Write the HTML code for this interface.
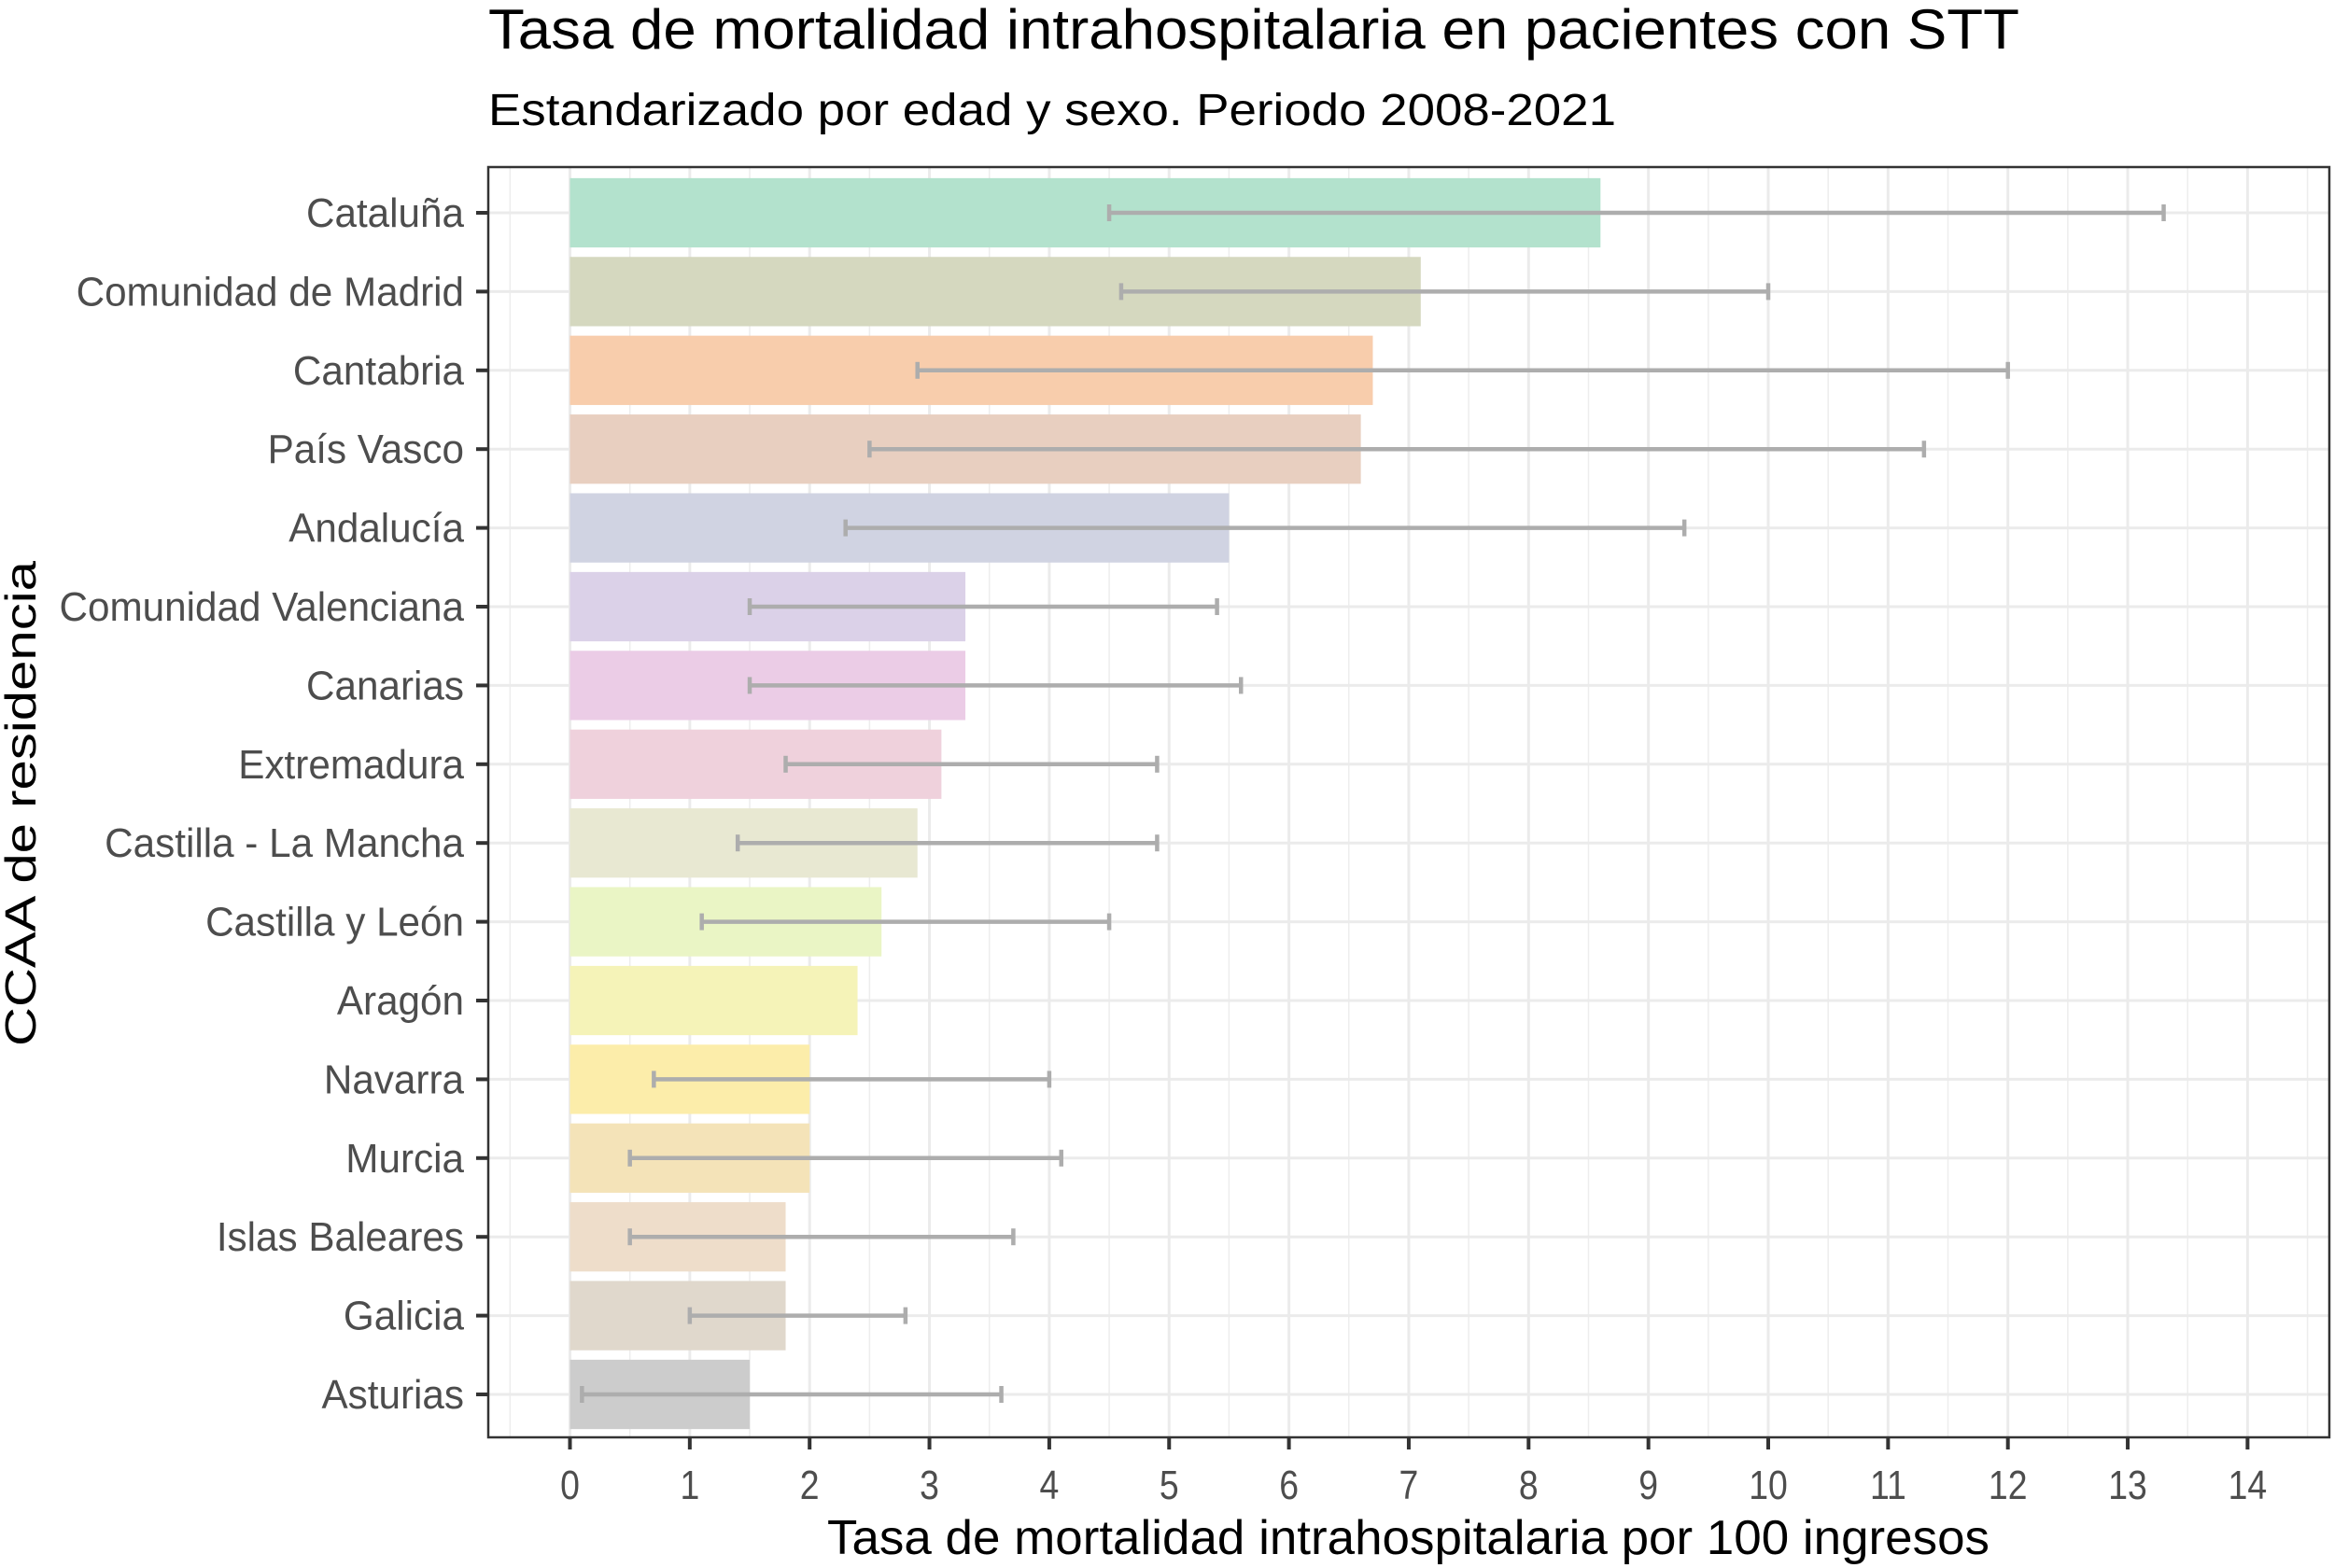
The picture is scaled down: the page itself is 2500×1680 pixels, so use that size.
<!DOCTYPE html>
<html><head><meta charset="utf-8"><style>html,body{margin:0;padding:0;background:#fff}svg{display:block}</style></head>
<body>
<svg id="chart" width="2500" height="1680" xmlns="http://www.w3.org/2000/svg" font-family="'Liberation Sans', sans-serif"></svg>
<script>
const categories = ["Cataluña","Comunidad de Madrid","Cantabria","País Vasco","Andalucía","Comunidad Valenciana","Canarias","Extremadura","Castilla - La Mancha","Castilla y León","Aragón","Navarra","Murcia","Islas Baleares","Galicia","Asturias"];
const values = [8.6,7.1,6.7,6.6,5.5,3.3,3.3,3.1,2.9,2.6,2.4,2.0,2.0,1.8,1.8,1.5];
const ciLow = [4.5,4.6,2.9,2.5,2.3,1.5,1.5,1.8,1.4,1.1,null,0.7,0.5,0.5,1.0,0.1];
const ciHigh = [13.3,10.0,12.0,11.3,9.3,5.4,5.6,4.9,4.9,4.5,null,4.0,4.1,3.7,2.8,3.6];
const barColors = ["#b3e2cd","#d5d8bf","#f8cdac","#e8cfc0","#d0d3e2","#dbd1e8","#ebcce6","#efd1dc","#e8e8d2","#eaf5c5","#f5f3b8","#fcedaa","#f4e3b8","#eeddca","#e0d8cc","#cccccc"];
const xTicks = [0,1,2,3,4,5,6,7,8,9,10,11,12,13,14];

const NS="http://www.w3.org/2000/svg";
const svg=document.getElementById('chart');
const P={l:523,r:2495,t:179,b:1540};
const x0=610.5, unit=128.35;
const xs=v=>x0+v*unit;
const rowStep=(1494-228)/15;
const ys=i=>228+i*rowStep;
const bh=rowStep*0.88;
function mk(t,a,parent){const e=document.createElementNS(NS,t);for(const k in a)e.setAttribute(k,a[k]);(parent||svg).appendChild(e);return e;}

const panel=mk('g',{});


mk('rect',{x:P.l,y:P.t,width:P.r-P.l,height:P.b-P.t,fill:'#fff'},panel);
for(let v=-0.5;v<=15;v+=1){const X=xs(v);if(X<P.l||X>P.r)continue;mk('line',{x1:X,x2:X,y1:P.t,y2:P.b,stroke:'#ededed','stroke-width':1.5},panel);}
xTicks.forEach(v=>{const g=mk('line',{x1:xs(v),x2:xs(v),y1:P.t,y2:P.b,stroke:'#ebebeb','stroke-width':3},panel);

});
categories.forEach((c,i)=>{mk('line',{x1:P.l,x2:P.r,y1:ys(i),y2:ys(i),stroke:'#ebebeb','stroke-width':3},panel);});

categories.forEach((c,i)=>{
  const r=mk('rect',{x:xs(0),y:ys(i)-bh/2,width:xs(values[i])-xs(0),height:bh,fill:barColors[i]});
  
  
});
categories.forEach((c,i)=>{
  if(ciLow[i]==null)return;
  const g=mk('g',{stroke:'#adadad','stroke-width':4.5});
  
  
  const y=ys(i);
  mk('line',{x1:xs(ciLow[i]),x2:xs(ciHigh[i]),y1:y,y2:y},g);
  mk('line',{x1:xs(ciLow[i]),x2:xs(ciLow[i]),y1:y-9,y2:y+9},g);
  mk('line',{x1:xs(ciHigh[i]),x2:xs(ciHigh[i]),y1:y-9,y2:y+9},g);
});
const bd=mk('rect',{x:P.l,y:P.t,width:P.r-P.l,height:P.b-P.t,fill:'none',stroke:'#333','stroke-width':2.5});



categories.forEach((c,i)=>{
  mk('line',{x1:P.l-13,x2:P.l,y1:ys(i),y2:ys(i),stroke:'#333','stroke-width':4});
  const t=mk('text',{x:0,y:0,'text-anchor':'end','font-size':44,fill:'#4d4d4d',transform:`translate(497,${ys(i)+15}) scale(0.96,1)`});
  t.textContent=c;
  
  
});
xTicks.forEach(v=>{
  mk('line',{x1:xs(v),x2:xs(v),y1:P.b,y2:P.b+13,stroke:'#333','stroke-width':4});
  const t=mk('text',{x:0,y:0,'text-anchor':'middle','font-size':44,fill:'#4d4d4d',transform:`translate(${xs(v)},1606) scale(0.85,1)`});
  t.textContent=String(v);
  
  
});
</script>
<svg style="position:absolute;left:0;top:0" width="2500" height="1680" xmlns="http://www.w3.org/2000/svg" font-family="'Liberation Sans', sans-serif">
<text x="523" y="52" font-size="60" textLength="1640" lengthAdjust="spacingAndGlyphs" fill="#000">Tasa de mortalidad intrahospitalaria en pacientes con STT</text>
<text x="523" y="134" font-size="48" textLength="1208" lengthAdjust="spacingAndGlyphs" fill="#000">Estandarizado por edad y sexo. Periodo 2008-2021</text>
<text x="886" y="1665" font-size="52" textLength="1245" lengthAdjust="spacingAndGlyphs" fill="#000">Tasa de mortalidad intrahospitalaria por 100 ingresos</text>
<text transform="translate(38,861) rotate(-90)" text-anchor="middle" font-size="46" textLength="520" lengthAdjust="spacingAndGlyphs" fill="#000">CCAA de residencia</text>
</svg>
</body></html>
